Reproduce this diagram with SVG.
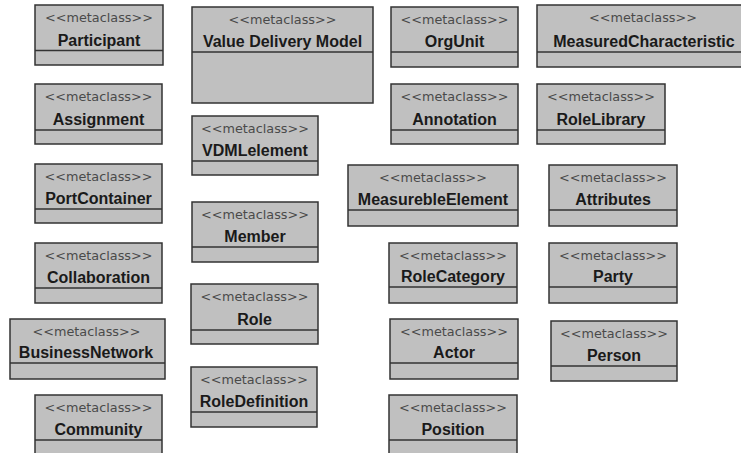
<svg xmlns="http://www.w3.org/2000/svg" width="741" height="453" viewBox="0 0 741 453">
<style>
.box{fill:#c0c0c0;stroke:#333;stroke-width:1.5}
.div{stroke:#333;stroke-width:1.5}
.st{font-family:"DejaVu Sans",Verdana,sans-serif;font-size:12.8px;fill:#4a4a4a;text-anchor:middle}
.nm{font-family:"Liberation Sans",Arial,sans-serif;font-size:16px;font-weight:bold;fill:#1a1a1a;text-anchor:middle}
</style>
<rect width="741" height="453" fill="#fff"/>
<g id="connectors"/>
<g id="participant"><rect class="box" x="35" y="5" width="128" height="60"/><line class="div" x1="35" y1="50.5" x2="163" y2="50.5"/><text class="st" x="99" y="22">&lt;&lt;metaclass&gt;&gt;</text><text class="nm" x="99" y="45.5">Participant</text></g>
<g id="assignment"><rect class="box" x="35" y="84" width="127" height="60"/><line class="div" x1="35" y1="130" x2="162" y2="130"/><text class="st" x="98.5" y="101">&lt;&lt;metaclass&gt;&gt;</text><text class="nm" x="98.5" y="125">Assignment</text></g>
<g id="portcontainer"><rect class="box" x="35" y="164" width="127" height="59"/><line class="div" x1="35" y1="209" x2="162" y2="209"/><text class="st" x="98.5" y="181">&lt;&lt;metaclass&gt;&gt;</text><text class="nm" x="98.5" y="204">PortContainer</text></g>
<g id="collaboration"><rect class="box" x="35" y="243" width="127" height="60"/><line class="div" x1="35" y1="288" x2="162" y2="288"/><text class="st" x="98.5" y="260">&lt;&lt;metaclass&gt;&gt;</text><text class="nm" x="98.5" y="283">Collaboration</text></g>
<g id="businessnetwork"><rect class="box" x="10" y="319" width="155" height="60"/><line class="div" x1="10" y1="363" x2="165" y2="363"/><text class="st" x="86.5" y="336">&lt;&lt;metaclass&gt;&gt;</text><text class="nm" x="86" y="358">BusinessNetwork</text></g>
<g id="community"><rect class="box" x="35" y="395" width="127" height="64"/><line class="div" x1="35" y1="440" x2="162" y2="440"/><text class="st" x="98.5" y="412">&lt;&lt;metaclass&gt;&gt;</text><text class="nm" x="98.5" y="435">Community</text></g>
<g id="valuedeliverymodel"><rect class="box" x="192" y="7" width="181" height="96"/><line class="div" x1="192" y1="52" x2="373" y2="52"/><text class="st" x="282.5" y="24">&lt;&lt;metaclass&gt;&gt;</text><text class="nm" x="282.5" y="47">Value Delivery Model</text></g>
<g id="vdmlelement"><rect class="box" x="192" y="116" width="126" height="59"/><line class="div" x1="192" y1="161" x2="318" y2="161"/><text class="st" x="255" y="133">&lt;&lt;metaclass&gt;&gt;</text><text class="nm" x="255" y="156">VDMLelement</text></g>
<g id="member"><rect class="box" x="192" y="202" width="126" height="60"/><line class="div" x1="192" y1="247" x2="318" y2="247"/><text class="st" x="255" y="219">&lt;&lt;metaclass&gt;&gt;</text><text class="nm" x="255" y="242">Member</text></g>
<g id="role"><rect class="box" x="191" y="284" width="127" height="60"/><line class="div" x1="191" y1="330" x2="318" y2="330"/><text class="st" x="254.5" y="301">&lt;&lt;metaclass&gt;&gt;</text><text class="nm" x="254.5" y="325">Role</text></g>
<g id="roledefinition"><rect class="box" x="191" y="367" width="126" height="60"/><line class="div" x1="191" y1="412" x2="317" y2="412"/><text class="st" x="254" y="384">&lt;&lt;metaclass&gt;&gt;</text><text class="nm" x="254" y="407">RoleDefinition</text></g>
<g id="orgunit"><rect class="box" x="391" y="7" width="127" height="60"/><line class="div" x1="391" y1="52" x2="518" y2="52"/><text class="st" x="454.5" y="24">&lt;&lt;metaclass&gt;&gt;</text><text class="nm" x="454.5" y="47">OrgUnit</text></g>
<g id="annotation"><rect class="box" x="391" y="84" width="127" height="60"/><line class="div" x1="391" y1="130" x2="518" y2="130"/><text class="st" x="454.5" y="101">&lt;&lt;metaclass&gt;&gt;</text><text class="nm" x="454.5" y="125">Annotation</text></g>
<g id="measurebleelement"><rect class="box" x="348" y="165" width="170" height="61"/><line class="div" x1="348" y1="210" x2="518" y2="210"/><text class="st" x="433" y="182">&lt;&lt;metaclass&gt;&gt;</text><text class="nm" x="433" y="205">MeasurebleElement</text></g>
<g id="rolecategory"><rect class="box" x="389" y="243" width="128" height="60"/><line class="div" x1="389" y1="287" x2="517" y2="287"/><text class="st" x="453" y="260">&lt;&lt;metaclass&gt;&gt;</text><text class="nm" x="453" y="282">RoleCategory</text></g>
<g id="actor"><rect class="box" x="390" y="319" width="128" height="60"/><line class="div" x1="390" y1="363" x2="518" y2="363"/><text class="st" x="454" y="336">&lt;&lt;metaclass&gt;&gt;</text><text class="nm" x="454" y="358">Actor</text></g>
<g id="position"><rect class="box" x="389" y="395" width="128" height="64"/><line class="div" x1="389" y1="440" x2="517" y2="440"/><text class="st" x="453" y="412">&lt;&lt;metaclass&gt;&gt;</text><text class="nm" x="453" y="435">Position</text></g>
<g id="measuredcharacteristic"><rect class="box" x="537" y="5" width="212" height="62"/><line class="div" x1="537" y1="52" x2="749" y2="52"/><text class="st" x="643" y="22">&lt;&lt;metaclass&gt;&gt;</text><text class="nm" x="644" y="47">MeasuredCharacteristic</text></g>
<g id="rolelibrary"><rect class="box" x="537" y="84" width="128" height="60"/><line class="div" x1="537" y1="130" x2="665" y2="130"/><text class="st" x="601" y="101">&lt;&lt;metaclass&gt;&gt;</text><text class="nm" x="601" y="125">RoleLibrary</text></g>
<g id="attributes"><rect class="box" x="549" y="165" width="128" height="61"/><line class="div" x1="549" y1="210" x2="677" y2="210"/><text class="st" x="613" y="182">&lt;&lt;metaclass&gt;&gt;</text><text class="nm" x="613" y="205">Attributes</text></g>
<g id="party"><rect class="box" x="549" y="243" width="128" height="60"/><line class="div" x1="549" y1="287" x2="677" y2="287"/><text class="st" x="613" y="260">&lt;&lt;metaclass&gt;&gt;</text><text class="nm" x="613" y="282">Party</text></g>
<g id="person"><rect class="box" x="551" y="321" width="126" height="60"/><line class="div" x1="551" y1="366" x2="677" y2="366"/><text class="st" x="614" y="338">&lt;&lt;metaclass&gt;&gt;</text><text class="nm" x="614" y="361">Person</text></g>
</svg>
